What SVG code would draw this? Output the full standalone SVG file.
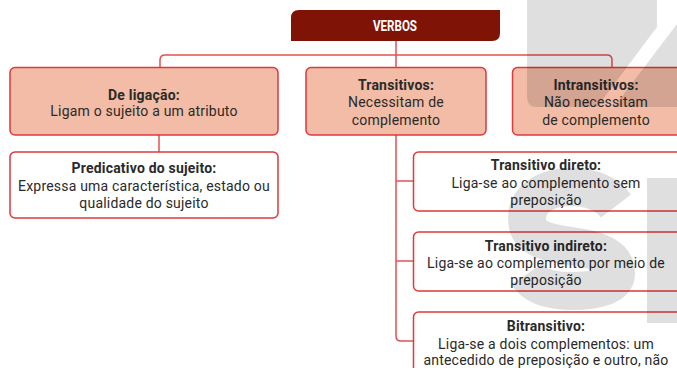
<svg xmlns="http://www.w3.org/2000/svg" width="677" height="368" viewBox="0 0 677 368">
<style>
.box{fill:#ffffff;stroke:#e0393c;stroke-width:1.5}
.hbox{fill:#f2bca6;stroke:#e0393c;stroke-width:1.5}
.con{fill:none;stroke:#e25050;stroke-width:1.5}
.t{font-family:Roboto,"Liberation Sans",sans-serif;font-size:14px;letter-spacing:0.2px;fill:#2a2a2a;text-anchor:middle}
.b{font-weight:bold}
.title{font-family:Roboto,"Liberation Sans",sans-serif;font-size:14.5px;font-weight:bold;fill:#ffffff;text-anchor:middle}
</style>
<rect width="677" height="368" fill="#ffffff"/>
<g id="connectors">
<path class="con" d="M396,41 V67"/>
<path class="con" d="M160,67 V60 Q160,55 165,55 H607 Q612,55 612,60 V67"/>
<path class="con" d="M159,135 V152"/>
<path class="con" d="M396,135 V336 Q396,341 401,341 H413"/>
<path class="con" d="M396,181 H413"/>
<path class="con" d="M396,261 H413"/>
</g>
<g id="verbos">
<path d="M299,10 H500 V33 Q500,41 492,41 H291 V18 Q291,10 299,10 Z" fill="#7e1306"/>
<text class="title" x="395" y="31" textLength="44" lengthAdjust="spacingAndGlyphs">VERBOS</text>
</g>
<g id="de-ligacao">
<rect class="hbox" x="10" y="67.5" width="268" height="67.5" rx="5"/>
<text class="t b" x="144" y="99.5">De ligação:</text>
<text class="t" x="144" y="116">Ligam o sujeito a um atributo</text>
</g>
<g id="transitivos">
<rect class="hbox" x="306" y="67.5" width="180" height="67.5" rx="5"/>
<text class="t b" x="396" y="89.5">Transitivos:</text>
<text class="t" x="396" y="107">Necessitam de</text>
<text class="t" x="396" y="124.5">complemento</text>
</g>
<g id="intransitivos">
<rect class="hbox" x="512.5" y="67.5" width="170" height="67.5" rx="5"/>
<text class="t b" x="596" y="89.5">Intransitivos:</text>
<text class="t" x="596" y="107">Não necessitam</text>
<text class="t" x="596" y="124.5">de complemento</text>
</g>
<g id="predicativo">
<rect class="box" x="10" y="152" width="268" height="66" rx="5"/>
<text class="t b" x="144" y="172.5">Predicativo do sujeito:</text>
<text class="t" x="144" y="191">Expressa uma característica, estado ou</text>
<text class="t" x="144" y="207.5">qualidade do sujeito</text>
</g>
<g id="transitivo-direto">
<rect class="box" x="413.5" y="152" width="270" height="59" rx="5"/>
<text class="t b" x="546" y="169.5">Transitivo direto:</text>
<text class="t" x="546" y="188">Liga-se ao complemento sem</text>
<text class="t" x="546" y="204.5">preposição</text>
</g>
<g id="transitivo-indireto">
<rect class="box" x="413.5" y="232" width="270" height="59" rx="5"/>
<text class="t b" x="546" y="250.5">Transitivo indireto:</text>
<text class="t" x="546" y="268">Liga-se ao complemento por meio de</text>
<text class="t" x="546" y="284.5">preposição</text>
</g>
<g id="bitransitivo">
<rect class="box" x="413.5" y="312" width="270" height="90" rx="5"/>
<text class="t b" x="546" y="331">Bitransitivo:</text>
<text class="t" x="546" y="349">Liga-se a dois complementos: um</text>
<text class="t" x="546" y="365">antecedido de preposição e outro, não</text>
</g>
<g id="watermark" opacity="0.12">
<path d="M527,0 H657 V27 L597,107 H537 Q527,107 527,97 Z" fill="#000"/>
<path d="M677,24 V107 H614 Z" fill="#000"/>
<path d="M616,206 C606,193 590,187 571,187 C545,187 527,200 527,218 C527,236 540,242 571,246 C602,250 616,258 616,274 C616,285 598,291 571,291 C550,291 535,286 527,274" fill="none" stroke="#000" stroke-width="38"/>
<rect x="647" y="178" width="30" height="145" fill="#000"/>
</g>
</svg>
